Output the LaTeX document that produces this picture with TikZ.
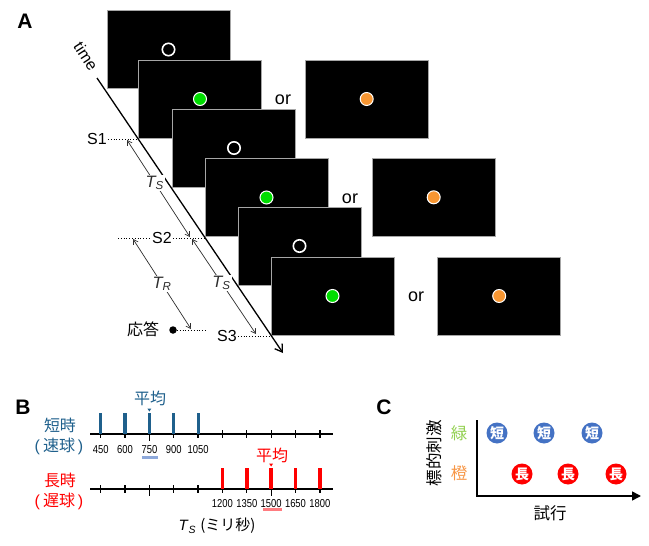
\documentclass[tikz,border=0pt]{standalone}
\usepackage{fontspec}
\setmainfont{Liberation Sans}
\newfontfamily\jp{Noto Sans CJK JP}
\newfontfamily\lat{Liberation Sans}
\usetikzlibrary{arrows.meta}
\definecolor{dotgreen}{RGB}{0,221,0}
\definecolor{dotorange}{RGB}{247,150,50}
\definecolor{tealb}{RGB}{31,96,140}
\definecolor{ulblue}{RGB}{142,169,219}
\definecolor{ulpink}{RGB}{255,124,128}
\definecolor{cgreen}{RGB}{146,208,80}
\definecolor{corange}{RGB}{247,150,70}
\definecolor{cblue}{RGB}{68,114,196}
\definecolor{cred}{RGB}{255,0,0}
\definecolor{arrgray}{RGB}{45,45,45}
\tikzset{
  screen/.style={draw=gray!70, fill=black, line width=0.6pt, minimum width=123pt, minimum height=78pt, inner sep=0pt},
  ring/.style={circle, draw=white, line width=1.6pt, minimum size=12.4pt, inner sep=0pt},
  gdot/.style={circle, fill=dotgreen, draw=white, line width=1pt, minimum size=13pt, inner sep=0pt},
  odot/.style={circle, fill=dotorange, draw=white, line width=1pt, minimum size=13pt, inner sep=0pt},
  ortext/.style={font=\fontsize{18}{18}\selectfont, inner sep=0pt},
  slab/.style={font=\fontsize{16}{16}\selectfont, inner sep=1pt},
  dots/.style={dotted, line width=0.8pt},
  dimarrow/.style={arrgray, line width=0.7pt, {Straight Barb[length=4.5pt,width=5.5pt]}-{Straight Barb[length=4.5pt,width=5.5pt]}},
  tlab/.style={fill=white, inner sep=1pt, font=\fontsize{16.5}{16.5}\selectfont\itshape},
  panel/.style={font=\fontsize{21}{21}\selectfont\bfseries, inner sep=0pt},
  axisline/.style={line width=1.6pt},
  tickline/.style={line width=1.3pt},
  num/.style={font=\fontsize{11.5}{11.5}\selectfont, xscale=0.82, inner sep=0pt},
  jlab/.style={font=\jp\fontsize{16}{16}\selectfont, inner sep=0pt},
  cjl/.style={font=\jp\fontsize{16.5}{16.5}\selectfont, inner sep=0pt},
  cbub/.style={circle, minimum size=21pt, inner sep=0pt, text=white, font=\jp\bfseries\fontsize{14}{14}\selectfont},
}
\begin{document}
\begin{tikzpicture}[x=1pt,y=-1pt]
\useasboundingbox (0,0) rectangle (649,546);
% ---------- Panel A ----------
\node[panel] (pA) at (25,21) {A};
\node[screen] (sc1) at (168.5,49.5) {};
\node[ring] (c1) at (sc1.center) {};
\node[screen] (sc2) at (200,99) {};
\node[gdot] (c2) at (sc2.center) {};
\node[screen] (sc3) at (234,148) {};
\node[ring] (c3) at (sc3.center) {};
\node[screen] (sc4) at (266.5,197.5) {};
\node[gdot] (c4) at (sc4.center) {};
\node[screen] (sc5) at (299.5,246) {};
\node[ring] (c5) at (sc5.center) {};
\node[screen] (sc6) at (332.5,296) {};
\node[gdot] (c6) at (sc6.center) {};
\node[screen] (r2) at (366.7,99) {};
\node[odot] (o2) at (r2.center) {};
\node[screen] (r4) at (433.7,197.3) {};
\node[odot] (o4) at (r4.center) {};
\node[screen] (r6) at (499.2,296) {};
\node[odot] (o6) at (r6.center) {};
\node[ortext] (or1) at (283,100) {or};
\node[ortext] (or2) at (350,199) {or};
\node[ortext] (or3) at (416,297) {or};
% time arrow
\coordinate (t0) at (97,78);
\coordinate (t1) at (283,353);
\draw[line width=1.3pt, -{Straight Barb[length=7pt,width=9pt]}] (t0) -- (t1);
\node[font=\fontsize{16}{16}\selectfont, rotate=-57, inner sep=0pt] (time) at (86,56) {time};
% S labels
\node[slab] (S1) at (97,139) {S1};
\coordinate (S1e) at (138,139);
\draw[dots] (S1.east) -- (S1e);
\node[slab] (S2) at (162,238) {S2};
\coordinate (S2w) at (118,238);
\coordinate (S2e) at (205,238);
\draw[dots] (S2w) -- (S2.west);
\draw[dots] (S2.east) -- (S2e);
\node[slab] (S3) at (227,336) {S3};
\coordinate (S3e) at (271,336);
\draw[dots] (S3.east) -- (S3e);
\node[font=\jp\fontsize{16}{16}\selectfont, inner sep=0pt] (resp) at (143,329) {応答};
\node[circle, fill=black, minimum size=7.5pt, inner sep=0pt] (rdot) at (173,330) {};
\coordinate (re) at (205,330);
\draw[dots] (rdot) -- (re);
% dimension arrows
\coordinate (a1s) at (127,140);
\coordinate (a1e) at (190,237);
\draw[dimarrow] (a1s) -- node[tlab, pos=0.44] (ts1) {T\textsubscript{S}} (a1e);
\coordinate (a2s) at (192,239);
\coordinate (a2e) at (256,334);
\draw[dimarrow] (a2s) -- node[tlab, pos=0.46] (ts2) {T\textsubscript{S}} (a2e);
\coordinate (a3s) at (133,239);
\coordinate (a3e) at (191,329);
\draw[dimarrow] (a3s) -- node[tlab] (tr) {T\textsubscript{R}} (a3e);
% ---------- Panel B ----------
\node[panel] (pB) at (23,407) {B};
\coordinate (ta0) at (90,434);
\coordinate (ta1) at (333,434);
\coordinate (ba0) at (90,489);
\coordinate (ba1) at (333,489);
\draw[axisline] (ta0) -- (ta1);
\draw[axisline] (ba0) -- (ba1);
\foreach \v [count=\i from 0] in {450,600,750,900,1050,1200,1350,1500,1650,1800} {
  \pgfmathsetmacro{\xx}{100.7+\i*24.35}
  \ifnum\v=750
    \draw[tickline] (\xx,430) -- (\xx,441);
    \draw[tickline] (\xx,485) -- (\xx,496);
  \else\ifnum\v=1500
    \draw[tickline] (\xx,430) -- (\xx,438);
    \draw[tickline] (\xx,485) -- (\xx,496);
  \else
    \draw[tickline] (\xx,430) -- (\xx,438);
    \draw[tickline] (\xx,485) -- (\xx,493);
  \fi\fi
  \ifnum\v<1200
    \fill[tealb] (\xx-1.6,413) rectangle (\xx+1.6,434);
    \node[num] (n\v) at (\xx,450) {\v};
  \else
    \fill[cred] (\xx-1.8,468) rectangle (\xx+1.8,489);
    \node[num] (n\v) at (\xx,504) {\v};
  \fi
}
\fill[ulblue] (141.7,456) rectangle (158.3,459);
\fill[ulpink] (263.3,507.5) rectangle (281.7,510.5);
\fill[tealb] (147.4,408.5) -- (151.4,408.5) -- (149.4,411.5) -- cycle;
\fill[cred] (269.1,463.5) -- (273.1,463.5) -- (271.1,466.5) -- cycle;
\node[jlab, text=tealb] (mean1) at (150,398) {平均};
\node[jlab, text=cred] (mean2) at (272,455) {平均};
\node[jlab, text=tealb] (short1) at (60,425) {短時};
\node[jlab, text=tealb] (short2) at (59,446) {{\lat(}\hspace{3pt}速球\hspace{3pt}{\lat)}};
\node[jlab, text=cred] (long1) at (60,480) {長時};
\node[jlab, text=cred] (long2) at (59,501) {{\lat(}\hspace{3pt}遅球\hspace{3pt}{\lat)}};
\node[font=\fontsize{15}{15}\selectfont, inner sep=0pt] (xlab) at (217,526) {\textit{T}\textsubscript{\textit{S}} {\jp (ミリ秒)}};
% ---------- Panel C ----------
\node[panel] (pC) at (384,407) {C};
\coordinate (o) at (477,496);
\coordinate (yt) at (477,420);
\coordinate (xt) at (641,496);
\draw[axisline] (yt) -- (o);
\draw[axisline, -{Triangle[length=9pt,width=9pt]}] ([xshift=-0.8pt]o) -- (xt);
\node[cjl, rotate=90] (ylab) at (434,453) {標的刺激};
\node[cjl, text=cgreen] (g) at (459,433) {緑};
\node[cjl, text=corange] (or) at (459,473) {橙};
\node[cbub, fill=cblue] (b1) at (497,433) {短};
\node[cbub, fill=cblue] (b2) at (544,433) {短};
\node[cbub, fill=cblue] (b3) at (592,433) {短};
\node[cbub, fill=cred] (l1) at (522,474) {長};
\node[cbub, fill=cred] (l2) at (568,474) {長};
\node[cbub, fill=cred] (l3) at (616,474) {長};
\node[cjl] (trial) at (550,513) {試行};
\end{tikzpicture}
\end{document}
